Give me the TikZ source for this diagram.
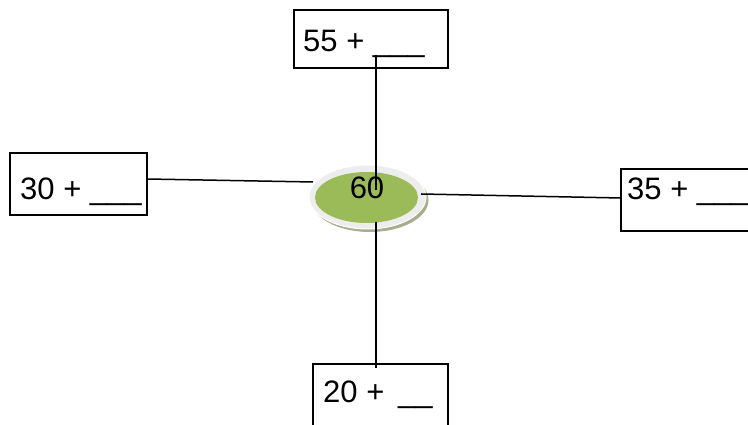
\documentclass[tikz,border=0pt]{standalone}
\usepackage{fontspec}
\setmainfont{Liberation Sans}
\usetikzlibrary{shapes.geometric}
\definecolor{leafgreen}{HTML}{9BBB59}
\definecolor{shadowolive}{HTML}{A9AD8E}
\definecolor{ringgray}{HTML}{EDEDED}

\begin{document}
\begin{tikzpicture}[x=1pt,y=1pt,
    box/.style={draw,line width=1.3pt,inner sep=0pt},
    sum/.style={anchor=base west,inner sep=0pt,font=\fontsize{31}{36}\selectfont},
    link/.style={line width=1.5pt}]
  \clip (0,0) rectangle (748,425);
  % center disc
  \node[ellipse,fill=shadowolive,minimum width=117,minimum height=64] (shade) at (370,225) {};
  \node[ellipse,fill=ringgray,draw=white,line width=1pt,minimum width=117,minimum height=64] (ring) at (367.5,228) {};
  \node[ellipse,fill=leafgreen,minimum width=103,minimum height=51] (hub) at (366.5,227.5) {};
  % boxes
  \node[box,minimum width=154,minimum height=58] (north) at (371,386) {};
  \node[box,minimum width=137,minimum height=62] (west) at (78.5,241) {};
  \node[box,minimum width=150,minimum height=62] (east) at (696,225) {};
  \node[box,minimum width=135,minimum height=90] (south) at (380.5,16) {};
  % texts
  \node[sum] (nlbl) at (303,373) {55 + \_\_\_};
  \node[sum] (wlbl) at (20,225) {30 + \_\_\_};
  \node[sum] (elbl) at (627,225) {35 + \_\_\_};
  \node[sum] (slbl) at (323,22) {20 +\, \_\_};
  % connector ends
  \coordinate (n1) at (376,370);
  \coordinate (n2) at (376,235);
  \coordinate (w1) at (147,246);
  \coordinate (w2) at (313,243);
  \coordinate (e1) at (421,231);
  \coordinate (e2) at (621,227);
  \coordinate (s1) at (376,203);
  \coordinate (s2) at (376,57);
  \draw[link] (n1) -- (n2);
  \draw[link] (w1) -- (w2);
  \draw[link] (e1) -- (e2);
  \draw[link] (s1) -- (s2);
  \node[anchor=base,inner sep=0pt,font=\fontsize{31}{36}\selectfont] (total) at (367,226) {60};
\end{tikzpicture}
\end{document}
